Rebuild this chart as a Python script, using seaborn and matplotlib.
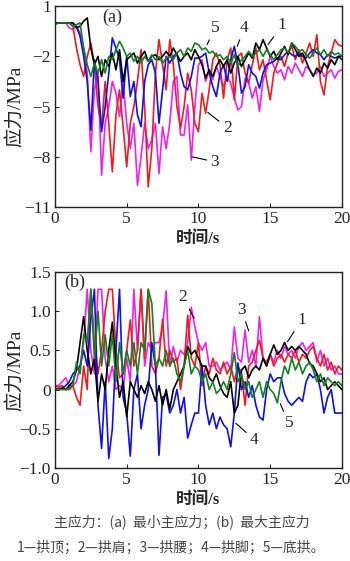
import numpy as np
import pandas as pd
import matplotlib
matplotlib.use("Agg")
import matplotlib.pyplot as plt
import seaborn as sns

# time axis, 0.25 s steps
t = np.linspace(0, 20, 81)

# -- (a) minimum principal stress, MPa (8 values per 2 s) ---------------------
a1 = [0, 0, 0, 0, 0, 0, -0.3, -0.2,
      0.1, 0.3, -1.5, -2.5, -2.0, -3.2, -2.2, -2.6,
      -1.8, -2.8, -1.6, -3.5, -2.2, -2.0, -1.8, -2.4,
      -2.0, -1.7, -2.3, -2.0, -1.9, -2.2, -2.0, -1.7,
      -2.0, -1.5, -1.9, -2.3, -2.0, -1.8, -2.2, -1.6,
      -2.0, -2.5, -3.3, -2.8, -3.2, -2.6, -2.2, -2.6,
      -2.2, -3.0, -2.4, -2.0, -2.6, -2.2, -1.8, -2.1,
      -1.2, -1.6, -1.0, -1.5, -2.0, -1.7, -2.2, -1.8,
      -1.4, -1.9, -1.2, -1.6, -2.0, -1.8, -2.3, -2.8,
      -3.2, -2.7, -3.0, -2.4, -2.7, -2.2, -2.5, -2.0,
      -2.0]
a2 = [0, 0, 0, 0, 0, -0.2, -1.5, -2.5,
      -3.2, -2.0, -1.2, -2.5, -5.0, -6.2, -3.5, -6.0,
      -8.9, -5.5, -4.0, -6.2, -8.6, -6.0, -5.0, -3.5,
      -1.6, -5.0, -9.8, -7.5, -3.0, -1.0, -2.5, -4.0,
      -1.0, -2.5, -5.0, -6.3, -5.0, -3.0, -4.0, -6.0,
      -6.5, -4.2, -5.4, -4.0, -2.2, -1.8, -2.5, -4.5,
      -2.2, -1.5, -4.6, -2.0, -1.8, -3.0, -3.6, -2.5,
      -1.5, -2.8, -2.2, -3.4, -4.6, -3.0, -2.4, -2.0,
      -2.6, -1.8, -1.4, -2.2, -1.6, -2.4, -1.8, -1.2,
      -2.0, -0.7, -3.5, -4.3, -2.6, -1.8, -1.0, -1.3,
      -1.4]
a3 = [0, 0, 0, 0, -0.3, -0.4, -0.2, -0.6,
      -1.5, -3.0, -7.7, -4.0, -3.0, -9.1, -6.0, -5.0,
      -3.5, -4.2, -5.6, -3.5, -6.0, -7.5, -6.0, -9.7,
      -8.0, -6.0, -7.5, -7.0, -6.0, -9.0, -6.2, -7.5,
      -6.0, -3.5, -3.2, -6.7, -6.7, -4.9, -8.2, -5.0,
      -2.5, -2.2, -3.5, -2.8, -3.4, -2.6, -3.2, -3.8,
      -3.2, -3.6, -4.5, -5.2, -5.0, -3.3, -3.6, -4.5,
      -3.8, -5.3, -3.4, -2.8, -2.0, -2.6, -3.0, -2.8,
      -3.4, -2.6, -3.0, -2.4, -2.8, -3.2, -2.6, -2.8,
      -3.1, -3.0, -2.6, -3.2, -3.0, -2.8, -3.3, -2.9,
      -2.8]
a4 = [0, 0, 0, 0, 0, 0, -0.2, -0.8,
      -2.0, -3.5, -6.4, -2.2, -3.5, -6.5, -5.0, -3.0,
      -0.9, -1.5, -2.2, -4.5, -2.0, -4.4, -3.5, -5.5,
      -6.2, -3.5, -2.5, -2.2, -3.0, -6.0, -4.0, -2.0,
      -2.4, -2.0, -1.8, -3.0, -3.8, -4.0, -3.2, -2.1,
      -2.1, -2.0, -1.8, -3.0, -3.8, -4.4, -3.0, -2.5,
      -3.5, -2.2, -1.4, -2.5, -4.2, -3.8, -2.5, -3.0,
      -3.2, -3.9, -3.0, -2.5, -2.4, -2.3, -2.1, -2.2,
      -1.9, -1.7, -1.9, -2.0, -1.8, -2.0, -2.1, -1.8,
      -1.6, -1.8, -1.9, -2.2, -1.9, -2.0, -2.1, -2.0,
      -2.2]
a5 = [-0.1, 0, 0, 0, 0, -0.2, -0.1, 0.0,
      -1.5, -2.5, -3.2, -2.4, -3.0, -2.2, -3.0, -2.0,
      -2.2, -1.6, -1.1, -1.5, -2.0, -1.8, -2.3, -2.0,
      -2.4, -2.0, -2.3, -1.9, -2.2, -2.0, -2.4, -2.1,
      -2.0, -2.2, -1.8, -1.6, -2.0, -1.5, -1.7, -1.2,
      -1.3, -1.6, -1.5, -1.8, -1.7, -2.0, -1.9, -2.2,
      -2.0, -2.4, -1.9, -2.6, -2.2, -2.0, -1.7, -2.0,
      -1.8, -1.6, -2.0, -1.6, -1.9, -2.2, -1.9, -1.6,
      -1.5, -1.8, -1.2, -1.4, -1.7, -1.6, -1.9, -2.1,
      -1.8, -1.5, -1.9, -1.6, -2.0, -1.7, -1.9, -1.8,
      -2.0]

# -- (b) maximum principal stress, MPa ----------------------------------------
b1 = [0.02, 0.0, 0.02, 0.0, 0.05, 0.1, 0.25, 0.6,
      0.93, 0.5, 0.2, 0.4, -0.15, 0.2, 0.0, 0.5,
      0.86, 0.3, -0.1, 0.1, -0.35, 0.1, 0.0, -0.1,
      0.05, -0.05, 0.1, 0.0, -0.15, 0.05, -0.2, 0.0,
      -0.25, 0.0, 0.1, 0.2, 0.3, 0.55, 0.45, 0.5,
      0.4, 0.3, 0.3, 0.15, 0.1, 0.2, 0.05, -0.05,
      -0.1, 0.1, -0.3, -0.2, 0.25, 0.3, 0.15, 0.25,
      0.3, 0.25, 0.4, 0.3, 0.45, 0.57, 0.45, 0.5,
      0.6, 0.5, 0.55, 0.5, 0.55, 0.5, 0.45, 0.33,
      0.3, 0.2, 0.1, 0.15, 0.0, 0.05, 0.1, 0.05,
      0.0]
b2 = [0.05, 0.03, 0.05, 0.0, 0.0, 0.05, -0.1, -0.2,
      0.3, 0.0, 1.28, 0.6, 0.2, 0.5, 1.0, 1.28,
      1.28, 0.5, 0.15, 0.2, 0.5, 0.89, 0.3, 0.5,
      1.28, 0.4, 1.28, 0.3, 0.2, 0.4, 0.9, 0.3,
      0.5, 0.35, 0.4, 0.0, 0.3, 0.95, 0.4, 0.3,
      0.6, 0.05, 0.3, 0.2, 0.4, 0.25, 0.2, 0.35,
      0.2, 0.3, 0.1, 0.3, 0.2, -0.2, 0.3, 0.35,
      0.5, 0.63, 0.4, 0.35, 0.45, 0.3, 0.4, 0.45,
      0.35, 0.45, 0.4, 0.5, 0.35, 0.45, 0.4, 0.5,
      0.55, 0.4, 0.3, 0.45, 0.25, 0.35, 0.2, 0.3,
      0.25]
b3 = [0.05, 0.05, 0.1, 0.15, 0.05, 0.05, 0.1, 0.3,
      0.6, 1.28, 0.5, 0.2, 1.28, 1.28, 0.4, 0.1,
      0.3, 0.0, 0.05, 0.0, 0.4, 0.1, 1.28, 0.5,
      1.28, 0.3, 0.6, 0.5, 0.6, 0.6, 0.8, 1.26,
      0.3, 0.55, 0.35, 0.5, 0.45, 0.6, 1.05, 0.8,
      0.6, 0.5, 0.6, 0.3, 0.3, 0.35, 0.25, 0.3,
      0.35, 0.25, 0.8, 0.4, 0.35, 0.76, 0.35, 0.5,
      0.3, 0.93, 0.4, 0.3, 0.45, 0.35, 0.5, 0.4,
      0.55, 0.45, 0.5, 0.4, 0.55, 0.6, 0.5, 0.55,
      0.6, 0.35, 0.5, 0.3, 0.4, 0.25, 0.3, 0.2,
      0.2]
b4 = [0.0, 0.0, 0.02, 0.05, 0.1, 0.2, 0.25, 0.3,
      0.5, 0.3, 0.9, 1.28, -0.2, -0.75, 0.1, -0.88,
      -0.5, 0.5, 1.28, -0.1, -0.3, -0.85, 0.0, 0.2,
      -0.5, -0.2, 0.0, 0.6, 0.3, -0.84, -0.1, -0.06,
      -0.3, -0.2, 0.0, -0.3, -0.1, -0.62, -0.45, -0.3,
      -0.3, 0.31, -0.2, -0.45, -0.3, -0.5, -0.35, -0.45,
      -0.5, -0.73, -0.3, 0.34, 0.0, 0.1, -0.1, 0.05,
      -0.2, -0.35, -0.39, 0.0, 0.2, 0.1, 0.15, 0.15,
      -0.05, -0.15, -0.2, -0.15, -0.1, -0.15, 0.1, 0.2,
      0.15, 0.2, 0.0, -0.3, -0.1, 0.0, -0.3, -0.3,
      -0.3]
b5 = [0.0, 0.0, 0.0, 0.0, 0.02, 0.05, 0.35, 0.2,
      0.7, 0.6, 1.28, 0.4, 1.0, 0.3, 0.7, 0.3,
      0.7, 0.1, 0.6, 0.2, 0.5, 0.3, 0.6, 0.2,
      0.6, 0.5, 1.28, 1.1, 0.3, 0.4, 0.3, 0.5,
      0.3, 0.4, 0.2, 0.1, 0.3, 0.5, 0.2, 0.3,
      0.25, 0.1, 0.2, 0.0, 0.1, -0.05, 0.0, 0.1,
      0.0, 0.2, 0.47, 0.1, 0.2, 0.0, 0.1, -0.1,
      0.0, 0.1, -0.1, 0.1, 0.0, -0.05, -0.17, 0.1,
      0.3, 0.2, 0.4, 0.25, 0.35, 0.2, 0.3, 0.35,
      0.25, 0.1, 0.2, 0.05, 0.15, 0.1, 0.05, 0.1,
      0.05]

positions = ["1", "2", "3", "4", "5"]
colors = {"1": "black", "2": "#ee1c1c", "3": "#f020f0", "4": "#1010e8", "5": "#14801e"}
draw_order = ["3", "2", "4", "1", "5"]

yticks_a = [1, -2, -5, -8, -11]
yticks_b = [1.5, 1.0, 0.5, 0, -0.5, -1.0]
ylabels_b = ["1.5", "1.0", "0.5", "0", "\u22120.5", "\u22121.0"]

# curve labels: (label, text xy, line end xy) in data units
notes_a = [("5", (11.15, -0.3), (10.6, -1.3)),
           ("4", (13.2, -0.3), (12.7, -1.4)),
           ("1", (15.8, -0.15), (14.85, -1.3)),
           ("2", (12.0, -6.25), (10.65, -5.35)),
           ("3", (11.15, -8.3), (9.55, -8.0))]
notes_b = [("2", (8.9, 1.18), (9.7, 0.91)),
           ("3", (13.0, 1.02), (13.5, 0.75)),
           ("1", (17.2, 0.89), (16.2, 0.61)),
           ("4", (13.9, -0.64), (12.6, -0.43)),
           ("5", (16.3, -0.43), (15.7, -0.18))]


def long_form(series):
    frames = [pd.DataFrame({"t": t, "stress": s, "pos": p}) for p, s in zip(positions, series)]
    return pd.concat(frames, ignore_index=True)


df_a = long_form([a1, a2, a3, a4, a5])
df_b = long_form([b1, b2, b3, b4, b5])

sns.set_style("ticks")
plt.rcParams["font.family"] = ["Liberation Serif", "Noto Sans CJK SC"]
plt.rcParams["axes.unicode_minus"] = True

fig = plt.figure(figsize=(3.5, 5.61), dpi=100)
ax_a = fig.add_axes([0.157, 0.631, 0.820, 0.358])
ax_b = fig.add_axes([0.157, 0.166, 0.820, 0.349])


def panel(ax, df, notes, tag):
    sns.lineplot(data=df, x="t", y="stress", hue="pos", hue_order=draw_order,
                 palette=colors, linewidth=1.2, legend=False, ax=ax)
    ax.set_xlim(0, 20)
    ax.set_xticks([0, 5, 10, 15, 20])
    ax.tick_params(direction="in", length=3, labelsize=12.5, pad=3,
                   top=False, right=False)
    for sp in ax.spines.values():
        sp.set_linewidth(1.0)
        sp.set_color("#222222")
    ax.set_xlabel("时间/s", fontsize=12, fontweight="bold", labelpad=3)
    ax.set_ylabel("应力/MPa", fontsize=14)
    ax.yaxis.set_label_coords(-0.105, 0.5)
    for lab, xy_text, xy_end in notes:
        ax.annotate(lab, xy=xy_end, xytext=xy_text, fontsize=12.5,
                    ha="center", va="center",
                    arrowprops=dict(arrowstyle="-", color="black", lw=0.8,
                                    shrinkA=0.5, shrinkB=0))
    ax.text(tag[1], tag[2], tag[0], transform=ax.transAxes, fontsize=13,
            ha="center", va="center")


panel(ax_a, df_a, notes_a, ("(a)", 0.2, 0.945))
ax_a.set_ylim(-11, 1)
ax_a.set_yticks(yticks_a)
ax_a.set_yticklabels([str(v).replace("-", "\u2212") for v in yticks_a])

panel(ax_b, df_b, notes_b, ("(b)", 0.07, 0.95))
ax_b.set_ylim(-1.0, 1.5)
ax_b.set_yticks(yticks_b)
ax_b.set_yticklabels(ylabels_b)

cap = ["Noto Sans CJK SC", "DejaVu Sans"]
fig.text(0.52, 1 - 522 / 561, "主应力：(a)  最小主应力；(b)  最大主应力",
         ha="center", va="center", fontsize=10, color="#444444", family=cap)
fig.text(0.49, 1 - 548 / 561, "1—拱顶；2—拱肩；3—拱腰；4—拱脚；5—底拱。",
         ha="center", va="center", fontsize=10, color="#444444", family=cap)

fig.savefig("out.png", dpi=100)
